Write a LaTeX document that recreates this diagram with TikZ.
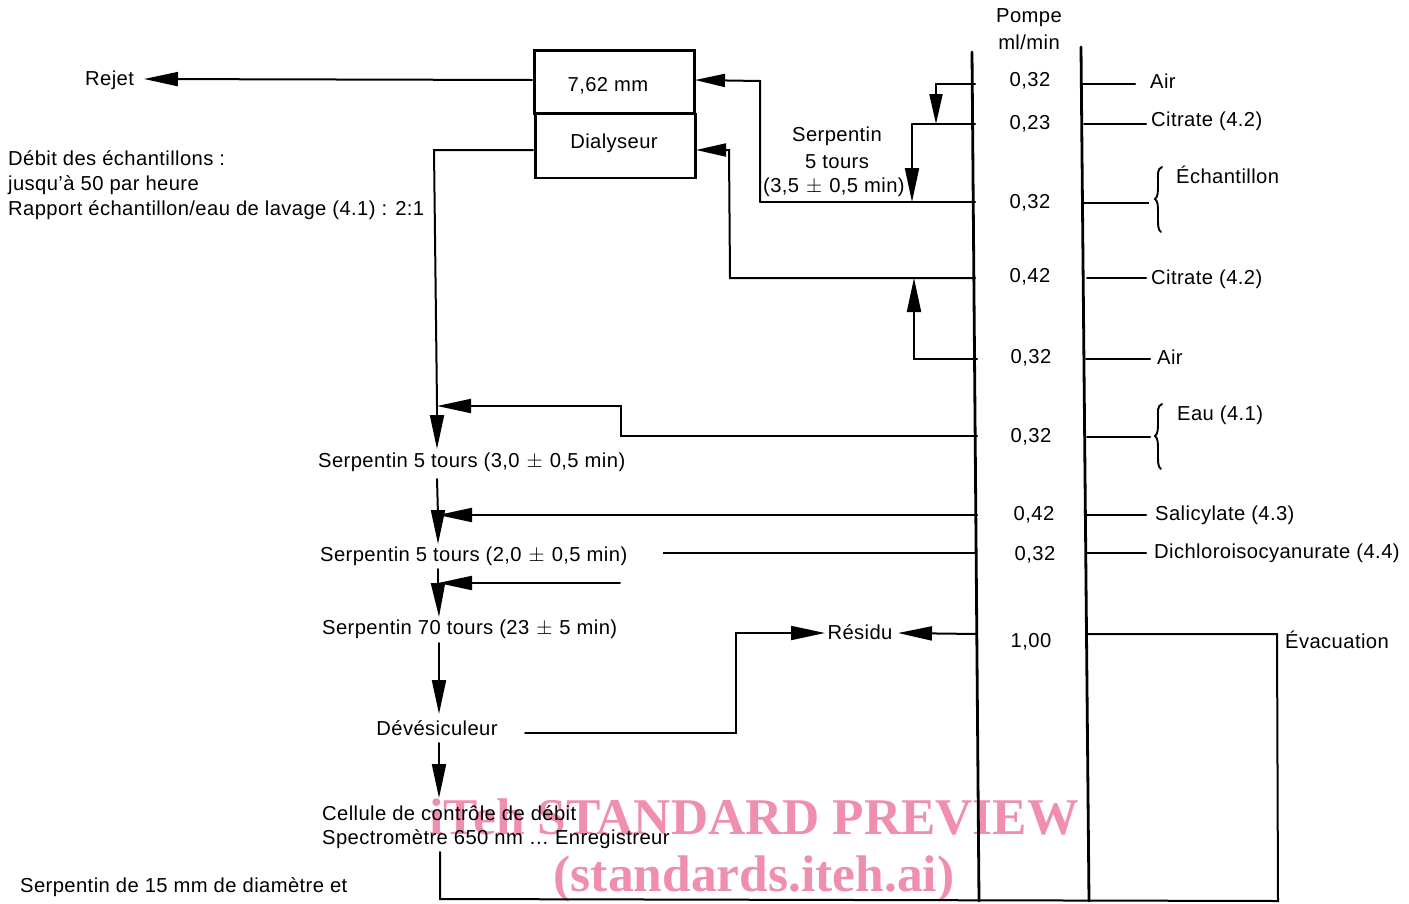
\documentclass[tikz,border=0pt]{standalone}
\usepackage{fontspec}
\setmainfont{Liberation Sans}[LetterSpace=2]
\newfontfamily\wmfont{Liberation Serif}
\usetikzlibrary{arrows.meta}
\definecolor{wm}{RGB}{238,130,165}
\newcommand{\pmx}{\hspace{7pt}$\pm$\hspace{7pt}}
\tikzset{
 pipe/.style={line width=2pt,line cap=round,line join=miter},
 thin pipe/.style={line width=1.5pt},
 flow/.style={pipe,-{Triangle[length=34pt,width=14pt]}},
 shortflow/.style={pipe,-{Triangle[length=30pt,width=13pt]}},
 lab/.style={font=\fontsize{20.2}{24}\selectfont,inner sep=0pt,text=black},
 wmk/.style={font=\wmfont\bfseries\fontsize{51.5}{52}\selectfont,text=wm,inner sep=0pt,opacity=.9},
 boxx/.style={draw,line width=2.8pt,inner sep=0pt,minimum width=160pt},
 brace/.style={line width=1.9pt,line cap=round}
}
\begin{document}
\begin{tikzpicture}[x=1pt,y=-1pt]
\useasboundingbox (0,0) rectangle (1409,903);
% watermark (under the drawing)
\node[wmk] (w1) at (754,817) {iTeh STANDARD PREVIEW};
\node[wmk] (w2) at (754,879) {(standards.iteh.ai)};
% rails
\coordinate (r1t) at (972,52); \coordinate (r1b) at (979,901);
\coordinate (r2t) at (1081,47); \coordinate (r2b) at (1089,901);
\draw[line width=2.8pt,line cap=round] (r1t) -- (r1b);
\draw[line width=2.8pt,line cap=round] (r2t) -- (r2b);
% boxes
\node[boxx,anchor=north west,minimum height=63pt] (bx1) at (533,49) {};
\node[boxx,anchor=north west,minimum height=64pt] (bx2) at (534,112.5) {};
\node[lab] (bt1) at (608,85.5) {7,62 mm};
\node[lab] (bt2) at (614,143.5) {Dialyseur};
% left labels
\node[lab,anchor=west] (rejet) at (85,80.5) {Rejet};
\node[lab,anchor=west] (d1) at (8,158) {Débit des échantillons :};
\node[lab,anchor=west] (d2) at (8,185) {jusqu’à 50 par heure};
\node[lab,anchor=west] (d3) at (8,210.5) {Rapport échantillon/eau de lavage (4.1) : 2:1};
\node[lab] (sa) at (837,136.5) {Serpentin};
\node[lab] (sb) at (837,162) {5 tours};
\node[lab,anchor=west] (sc) at (763,187.5) {(3,5\pmx 0,5 min)};
\node[lab,anchor=west] (s1) at (318,462.5) {Serpentin 5 tours (3,0\pmx 0,5 min)};
\node[lab,anchor=west] (s2) at (320,556.5) {Serpentin 5 tours (2,0\pmx 0,5 min)};
\node[lab,anchor=west] (s3) at (322,629.5) {Serpentin 70 tours (23\pmx 5 min)};
\node[lab] (dev) at (437,728) {Dévésiculeur};
\node[lab,anchor=west] (cel) at (322,813) {Cellule de contrôle de débit};
\node[lab,anchor=west] (spe) at (322,839.5) {Spectromètre 650 nm … Enregistreur};
\node[lab,anchor=west] (ser) at (20,887) {Serpentin de 15 mm de diamètre et};
\node[lab] (res) at (860,632) {Résidu};
% pump column
\node[lab] (pa) at (1029,17.5) {Pompe};
\node[lab] (pb) at (1029,42) {ml/min};
\foreach \n/\x/\y/\t in {v1/1030/81/{0,32},v2/1030/124/{0,23},v3/1030/203/{0,32},v4/1030/277/{0,42},v5/1031/358/{0,32},v6/1031/437/{0,32},v7/1034/515/{0,42},v8/1035/555/{0,32},v9/1031/641.5/{1,00}}
  \node[lab] (\n) at (\x,\y) {\t};
% right labels
\node[lab,anchor=west] (air1) at (1150,81) {Air};
\node[lab,anchor=west] (cit1) at (1151,121.5) {Citrate (4.2)};
\node[lab,anchor=west] (ech) at (1176,175) {Échantillon};
\node[lab,anchor=west] (cit2) at (1151,279.5) {Citrate (4.2)};
\node[lab,anchor=west] (air2) at (1157,357) {Air};
\node[lab,anchor=west] (eau) at (1177,415.5) {Eau (4.1)};
\node[lab,anchor=west] (sal) at (1155,515.5) {Salicylate (4.3)};
\node[lab,anchor=west] (dic) at (1154,553.5) {Dichloroisocyanurate (4.4)};
\node[lab,anchor=west] (eva) at (1285,640) {Évacuation};
% right stubs
\foreach \xa/\xb/\y in {1083/1135/84,1084/1146/124,1087/1146/278,1086/1150/359,1087/1150/437,1087/1146/515,1087/1146/553}
  \draw[pipe] (\xa,\y) -- (\xb,\y);
\draw[thin pipe] (1084,203) -- (1149,203);
% braces
\draw[brace] (1162,167) .. controls (1157,169) and (1158,174) .. (1158,182) .. controls (1158,192) and (1158,197) .. (1155,199) .. controls (1158,201) and (1158,206) .. (1158,216) .. controls (1158,226) and (1158,230) .. (1161,232);
\draw[brace] (1162,404) .. controls (1157,406) and (1158,411) .. (1158,419) .. controls (1158,429) and (1158,434) .. (1155,436) .. controls (1158,438) and (1158,443) .. (1158,453) .. controls (1158,463) and (1158,467) .. (1161,469);
% coordinates
\coordinate (j1) at (760,81);
\coordinate (j2) at (760,202);
\coordinate (in1) at (695,80);
\coordinate (in2) at (696,150);
\coordinate (j3) at (729,150);
\coordinate (j4) at (730,278);
\coordinate (o1) at (975,84); \coordinate (k1) at (936,84); \coordinate (k2) at (936,124);
\coordinate (o2) at (975,124); \coordinate (k3) at (912,124); \coordinate (k4) at (912,202);
\coordinate (o3) at (975,202);
\coordinate (o4) at (975,278); \coordinate (o5) at (977,359);
\coordinate (k5) at (914,359); \coordinate (k6) at (914,278);
\coordinate (o6) at (977,436); \coordinate (k7) at (621,436); \coordinate (k8) at (621,406);
\coordinate (m1) at (437,406);
\coordinate (t1) at (532,80); \coordinate (t2) at (533,150); \coordinate (l1) at (434,150);
\coordinate (a0) at (144,79);
\coordinate (m1b) at (437,449);
\coordinate (c2a) at (437,479); \coordinate (m2) at (438,515); \coordinate (m2b) at (438,544);
\coordinate (o7) at (977,515);
\coordinate (c3a) at (438,569); \coordinate (m3) at (438,583); \coordinate (m3b) at (439,617);
\coordinate (f3) at (620,583);
\coordinate (f2) at (663,553); \coordinate (o8) at (977,553);
\coordinate (c4a) at (439,643); \coordinate (c4b) at (439,714);
\coordinate (c5a) at (439,743); \coordinate (c5b) at (439,798);
\coordinate (c6a) at (440,852); \coordinate (c6b) at (440,899); \coordinate (c6c) at (1278,901); \coordinate (c6d) at (1277,634); \coordinate (e0) at (1088,634);
\coordinate (d1a) at (525,733); \coordinate (d1b) at (736,733); \coordinate (d1c) at (736,633); \coordinate (d1d) at (825,633);
\coordinate (o9) at (977,634); \coordinate (r9) at (898,633);
% connectors
\draw[flow] (t1) -- (a0);
\draw[shortflow] (j2) -- (j1) -- (in1);
\draw[pipe] (o3) -- (j2);
\draw[shortflow] (o4) -- (j4) -- (j3) -- (in2);
\draw[shortflow] (o1) -- (k1) -- (k2);
\draw[pipe] (o2) -- (k3);
\draw[flow] (k3) -- (k4);
\draw[flow] (o5) -- (k5) -- (k6);
\draw[pipe] (t2) -- (l1) -- (m1);
\draw[flow] (m1) -- (m1b);
\draw[flow] (o6) -- (k7) -- (k8) -- (m1);
\draw[pipe] (c2a) -- (m2);
\draw[flow] (m2) -- (m2b);
\draw[flow] (o7) -- (m2);
\draw[pipe] (c3a) -- (m3);
\draw[flow] (m3) -- (m3b);
\draw[flow] (f3) -- (m3);
\draw[thin pipe] (f2) -- (o8);
\draw[flow] (c4a) -- (c4b);
\draw[flow] (c5a) -- (c5b);
\draw[pipe] (c6a) -- (c6b) -- (c6c) -- (c6d) -- (e0);
\draw[flow] (d1a) -- (d1b) -- (d1c) -- (d1d);
\draw[flow] (o9) -- (r9);
\end{tikzpicture}
\end{document}
